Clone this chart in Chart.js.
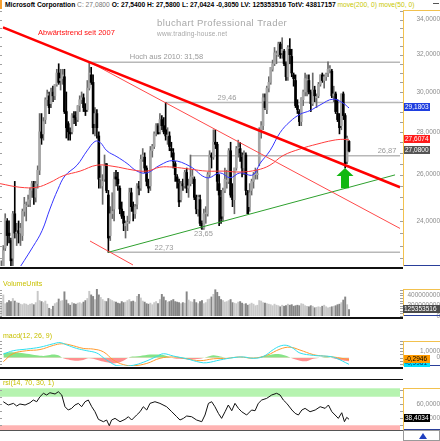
<!DOCTYPE html>
<html>
<head>
<meta charset="utf-8">
<title>Microsoft Corporation</title>
<script src="https://cdn.jsdelivr.net/npm/chart.js@4.4.1/dist/chart.umd.min.js"></script>
<style>
  body { margin: 0; width: 440px; height: 441px; overflow: hidden; background: #fff; position: relative; font-family: "Liberation Sans", Arial, sans-serif; }
  canvas { position: absolute; left: 0; }
  #mark { position: absolute; left: 0; top: 0; width: 2px; height: 9px; background: #f7a030; }
  #head { position: absolute; left: 5px; top: 0; height: 9px; line-height: 9px; font-size: 6.7px; font-weight: bold; white-space: nowrap; color: #000; }
  #head .c { color: #777; font-weight: normal; }
  #head .m { color: #c8c800; font-weight: normal; }
  #min { position: absolute; left: 433px; top: 3px; width: 6px; height: 1px; background: #555; }
</style>
</head>
<body>
<div id="mark"></div>
<div id="head">Microsoft Corporation <span class="c">C: 27,0800</span> O: 27,5400 H: 27,5800 L: 27,0424 -0,3050 LV: 125353516 TotV: 43817157 <span class="m">move(200, 0) move(50, 0)</span></div>
<div id="min"></div>
<canvas id="cPrice" width="440" height="271" style="top:9px"></canvas>
<canvas id="cVol" width="440" height="51" style="top:280px"></canvas>
<canvas id="cMacd" width="440" height="48" style="top:331px"></canvas>
<canvas id="cRsi" width="440" height="62" style="top:379px"></canvas>
<script>
// weekly bars, week 0 = 1 Jun 2009
const opens = [
  21.0, 22.2, 22.9, 24.0, 23.5, 23.2, 22.5, 24.3, 23.5, 23.6,
  23.5, 23.4, 24.4, 24.6, 24.7, 24.9, 25.3, 25.6, 25.0, 25.6,
  26.2, 28.0, 27.9, 28.6, 29.6, 29.8, 29.4, 30.0, 29.8, 30.4,
  31.0, 30.6, 30.7, 30.8, 29.0, 28.4, 28.0, 28.0, 28.8, 28.7,
  28.6, 29.3, 29.6, 29.7, 29.2, 29.1, 30.2, 30.9, 30.5, 28.4,
  28.9, 27.8, 25.8, 25.5, 25.8, 26.5, 25.1, 23.4, 24.3, 24.5,
  25.9, 25.8, 25.4, 24.5, 24.2, 23.8, 23.9, 24.0, 25.2, 24.6,
  24.3, 24.7, 25.5, 25.4, 26.7, 26.8, 26.3, 25.7, 25.5, 27.1,
  27.3, 27.9, 28.3, 28.0, 28.6, 28.3, 28.1, 27.8, 27.8, 27.2,
  27.0, 26.5, 25.9, 25.6, 24.9, 25.6, 25.5, 26.1, 25.4, 25.6,
  25.9, 25.8, 25.0, 24.5, 24.9, 23.9, 23.7, 24.3, 24.3, 26.0,
  26.9, 26.8, 27.5, 27.4, 25.6, 25.0, 24.2, 25.3, 25.7, 25.7,
  27.1, 25.1, 24.9, 26.3, 27.2, 27.2, 26.8, 26.3, 26.9, 25.2,
  24.6, 25.3, 25.7, 26.0, 26.0, 26.5, 28.1, 28.3, 29.5, 29.1,
  30.2, 30.5, 31.2, 31.5, 32.0, 32.0, 32.6, 32.1, 32.2, 31.5,
  30.8, 32.3, 31.9, 30.9, 30.6, 29.3, 29.0, 28.5, 29.6, 30.0,
  30.6, 30.6, 30.0, 29.4, 30.1, 29.7, 29.8, 30.4, 30.9, 30.6,
  30.8, 31.0, 31.2, 31.1, 29.8, 29.9, 28.9, 28.6, 28.3, 29.9,
  28.8, 26.6, 27.54
];
const highs = [
  22.4, 23.0, 24.3, 24.1, 24.0, 23.3, 24.4, 25.7, 23.9, 24.0,
  23.9, 24.5, 25.0, 24.8, 25.1, 25.4, 25.7, 25.7, 25.7, 26.4,
  28.9, 28.9, 28.7, 29.7, 30.1, 30.0, 30.2, 30.3, 30.4, 31.2,
  31.5, 31.2, 31.2, 31.2, 30.0, 28.5, 28.2, 28.9, 29.0, 29.0,
  29.3, 29.8, 30.0, 29.9, 29.4, 30.6, 31.58, 31.3, 30.9, 29.2,
  29.1, 28.0, 26.4, 26.0, 26.9, 26.5, 25.3, 24.6, 25.2, 26.1,
  26.2, 26.1, 25.5, 24.8, 24.4, 24.0, 24.2, 25.4, 25.4, 24.8,
  24.7, 25.6, 25.7, 26.9, 27.2, 27.0, 26.4, 25.8, 27.3, 27.4,
  28.0, 28.4, 28.4, 28.9, 28.8, 28.7, 29.46, 28.2, 28.0, 27.5,
  27.2, 26.6, 26.0, 25.8, 25.7, 25.8, 26.2, 26.3, 25.8, 26.9,
  26.2, 25.9, 25.1, 25.1, 25.1, 24.0, 24.5, 24.6, 26.1, 27.1,
  27.0, 28.1, 28.1, 27.5, 26.0, 25.3, 25.4, 26.3, 26.2, 27.2,
  27.5, 25.6, 26.3, 27.3, 27.6, 27.5, 27.0, 27.1, 27.0, 25.3,
  25.6, 25.8, 26.1, 26.3, 26.2, 28.2, 28.5, 29.9, 29.9, 30.3,
  30.8, 31.3, 31.7, 32.4, 32.2, 32.7, 32.7, 32.95, 32.3, 31.6,
  32.5, 32.9, 32.3, 31.0, 30.9, 29.6, 29.1, 29.7, 30.1, 31.0,
  30.9, 30.9, 30.1, 31.0, 30.3, 29.9, 30.5, 30.9, 31.0, 30.9,
  31.0, 31.6, 31.4, 31.2, 30.3, 30.0, 29.6, 28.9, 29.9, 30.0,
  28.9, 27.8, 27.58
];
const lows = [
  20.9, 21.8, 22.8, 23.0, 23.1, 22.0, 22.2, 23.3, 23.0, 23.1,
  23.0, 23.2, 24.2, 24.0, 24.6, 24.6, 25.0, 24.7, 24.8, 25.4,
  26.0, 27.4, 27.6, 28.4, 29.3, 28.9, 29.2, 29.5, 29.6, 30.3,
  30.4, 30.1, 30.4, 28.9, 27.7, 27.6, 27.6, 27.9, 28.4, 28.3,
  28.5, 29.0, 29.4, 29.0, 28.8, 29.0, 30.1, 30.4, 27.9, 27.8,
  27.7, 25.4, 25.4, 24.7, 25.7, 25.2, 22.73, 23.2, 24.1, 24.0,
  25.5, 25.3, 24.3, 24.1, 23.6, 23.3, 23.6, 23.9, 24.4, 24.0,
  24.1, 24.5, 25.1, 25.3, 26.6, 26.1, 25.5, 25.2, 25.3, 26.8,
  27.2, 27.8, 27.9, 27.9, 28.1, 27.9, 27.6, 27.4, 27.1, 26.8,
  26.3, 25.7, 25.4, 24.6, 24.8, 25.3, 25.4, 25.2, 25.0, 25.5,
  25.6, 24.9, 24.3, 24.2, 23.8, 23.65, 23.65, 23.9, 24.2, 25.9,
  26.3, 26.7, 27.2, 25.3, 23.8, 23.9, 24.0, 25.2, 25.4, 25.6,
  25.0, 24.6, 24.3, 26.2, 26.8, 26.6, 25.9, 26.0, 25.1, 24.3,
  24.4, 25.1, 25.4, 25.8, 25.8, 26.4, 27.7, 28.1, 29.1, 28.9,
  30.0, 30.4, 31.1, 31.4, 31.5, 31.9, 31.8, 31.8, 31.4, 30.6,
  30.6, 31.5, 30.8, 30.3, 29.2, 28.9, 28.3, 28.3, 29.3, 29.8,
  29.8, 29.9, 29.0, 29.3, 29.5, 29.2, 29.7, 30.3, 30.5, 30.2,
  30.6, 30.8, 31.0, 29.7, 29.5, 28.9, 28.5, 27.9, 28.1, 28.6,
  26.3, 26.5, 27.04
];
const closes = [
  22.1, 22.8, 24.1, 23.4, 23.4, 22.4, 24.3, 23.5, 23.5, 23.5,
  23.7, 24.4, 24.7, 24.6, 24.9, 25.3, 25.6, 25.0, 25.6, 26.2,
  28.0, 27.7, 28.5, 29.6, 29.9, 29.2, 30.0, 29.8, 30.4, 31.0,
  30.5, 30.7, 30.9, 29.0, 28.2, 28.0, 27.9, 28.8, 28.7, 28.6,
  29.3, 29.6, 29.7, 29.2, 29.0, 30.2, 31.0, 30.5, 28.2, 28.9,
  28.2, 25.8, 25.8, 25.7, 26.4, 25.3, 23.3, 24.3, 24.4, 25.8,
  25.8, 25.6, 24.5, 24.2, 23.9, 23.9, 23.9, 25.2, 24.6, 24.4,
  24.6, 25.5, 25.4, 26.7, 26.9, 26.3, 25.7, 25.4, 27.1, 27.3,
  27.9, 28.3, 27.9, 28.6, 28.3, 28.0, 27.8, 27.8, 27.3, 27.1,
  26.6, 26.0, 25.7, 24.8, 25.6, 25.5, 26.1, 25.4, 25.5, 25.9,
  25.9, 25.0, 24.5, 25.0, 23.9, 23.7, 24.3, 24.3, 26.0, 26.9,
  26.8, 27.5, 27.4, 25.7, 25.1, 24.1, 25.3, 25.8, 25.7, 27.1,
  25.1, 24.9, 26.3, 27.2, 27.2, 27.0, 26.3, 26.9, 25.3, 24.3,
  25.2, 25.7, 26.0, 26.0, 26.0, 28.1, 28.3, 29.7, 29.2, 30.2,
  30.5, 31.3, 31.5, 32.1, 32.0, 32.6, 32.0, 32.3, 31.5, 30.8,
  32.4, 32.0, 31.0, 30.7, 29.3, 29.1, 28.5, 29.7, 30.0, 30.7,
  30.6, 30.0, 29.4, 30.1, 29.8, 29.75, 30.4, 30.9, 30.6, 30.8,
  30.95, 31.2, 31.2, 29.8, 29.9, 29.0, 28.6, 28.2, 29.9, 28.8,
  26.5, 27.7, 27.08
];
// weekly volume in millions
const volumes = [
  280, 410, 240, 260, 300, 280, 340, 290, 260, 250,
  230, 220, 240, 230, 210, 230, 240, 220, 260, 480,
  300, 280, 260, 290, 230, 150, 130, 190, 240, 260,
  330, 290, 300, 470, 310, 240, 210, 260, 240, 230,
  250, 260, 240, 270, 300, 340, 480, 410, 380, 320,
  520, 410, 360, 320, 290, 280, 340, 320, 300, 280,
  270, 250, 240, 280, 260, 270, 300, 320, 280, 290,
  270, 380, 420, 350, 290, 270, 240, 230, 250, 220,
  260, 280, 240, 320, 420, 370, 300, 270, 280, 300,
  320, 280, 270, 260, 240, 260, 250, 470, 310, 280,
  270, 320, 260, 240, 280, 300, 240, 260, 320, 330,
  370, 420, 510, 460, 380, 320, 300, 270, 280, 300,
  320, 260, 250, 240, 270, 280, 250, 230, 240, 210,
  230, 250, 230, 200, 210, 300, 290, 260, 250, 240,
  230, 220, 200, 230, 210, 200, 180, 210, 190, 200,
  230, 210, 220, 190, 200, 210, 200, 240, 230, 200,
  190, 180, 200, 190, 160, 170, 180, 170, 190, 210,
  180, 160, 170, 180, 190, 200, 220, 230, 260, 310,
  370, 220, 125
];

// moving averages (week, price)
const ma50Weeks = [7.5, 16.5, 21.3, 25.4, 29.6, 33.3, 39.6, 44.8, 49.0, 51.6, 55.3, 60.5, 65.8, 71.0, 76.2, 83.0, 89.8, 98.7, 107.6, 114.5, 119.7, 124.9, 131.7, 135.4, 140.6, 145.9, 151.1, 156.3, 161.6, 166.8, 173.6, 178.8, 182.0];
const ma50Values = [21.9, 22.95, 23.6, 24.5, 25.35, 25.95, 26.43, 27.09, 27.54, 27.5, 27.09, 26.82, 26.51, 26.16, 26.08, 26.43, 26.64, 26.38, 25.86, 26.08, 25.86, 26.08, 25.99, 26.51, 27.1, 27.96, 28.5, 28.86, 29.05, 29.33, 29.63, 29.43, 29.18];
const ma200Weeks = [-0.7, 9.7, 18.6, 25.4, 32.3, 41.2, 50.0, 58.4, 68.9, 76.2, 83.0, 89.8, 98.7, 107.6, 116.0, 124.9, 133.8, 140.6, 147.4, 156.3, 165.2, 173.6, 178.8, 182.0];
const ma200Values = [25.6, 25.44, 25.44, 25.65, 25.95, 26.16, 26.43, 26.38, 26.21, 26.16, 26.34, 26.34, 26.25, 26.16, 26.16, 26.12, 26.21, 26.43, 26.87, 27.18, 27.41, 27.59, 27.64, 27.61];

// drawn lines (week, price)
const trendMain = [[0.84, 33.55], [208.7, 25.44]];
const trendInner = [[46.4, 31.58], [208.7, 23.69]];
const trendLower = [[46.4, 23.18], [68.9, 22.24]];
const supportLine = [[55.8, 22.73], [206.1, 25.99]];
const levelValues = [31.58, 29.46, 26.87, 22.73];
const levelFrom = [46.4, 85.7, 98.7, 55.8];
const levelTo = 208.7;
const arrowAt = { w: 179.9, tip: 26.3, base: 25.4 };

// macd panel
const macdWeeks = [1.0, 6.2, 13.2, 20.2, 27.2, 30.7, 34.2, 39.4, 44.7, 49.9, 53.4, 56.9, 60.4, 64.0, 69.1, 74.3, 81.3, 84.8, 90.0, 97.0, 104.0, 107.5, 114.5, 121.4, 126.7, 131.9, 137.1, 142.4, 145.9, 149.4, 152.8, 156.3, 163.3, 168.5, 172.1, 175.5, 182.0];
const macdValues = [0.52, 1.03, 1.27, 1.55, 2.06, 2.23, 1.89, 1.37, 1.03, 0.69, 0.0, -0.69, -1.2, -1.3, -1.13, -0.69, 0.17, 0.58, 0.24, -0.17, -0.69, -0.76, -0.34, 0.0, 0.1, -0.1, 0.17, 1.2, 1.72, 1.82, 1.37, 0.69, 0.34, 0.24, 0.17, -0.1, -0.9961];
const signalWeeks = [1.0, 6.2, 13.2, 20.2, 27.2, 31.6, 35.9, 42.9, 48.1, 53.4, 58.6, 63.8, 69.1, 76.1, 83.0, 90.0, 97.0, 104.0, 111.0, 118.0, 124.9, 131.9, 138.9, 145.9, 151.1, 156.3, 163.3, 168.5, 173.8, 182.0];
const signalValues = [-0.6, 0.6, 1.03, 1.2, 1.82, 2.06, 1.89, 1.37, 1.27, 0.86, -0.34, -1.03, -1.2, -0.86, -0.1, 0.1, -0.17, -0.45, -0.17, -0.1, 0.1, -0.07, 0.34, 1.27, 1.55, 1.13, 0.45, 0.24, 0.1, -0.2946];
const histWeeks = [1.0, 6.2, 13.2, 18.5, 21.9, 23.7, 27.2, 29.8, 32.4, 35.9, 39.4, 42.9, 45.5, 48.1, 51.6, 55.1, 58.6, 62.1, 65.6, 67.3, 72.6, 77.8, 83.0, 86.5, 90.0, 97.0, 104.0, 107.5, 111.0, 114.5, 118.0, 121.4, 128.4, 131.9, 135.4, 138.9, 142.4, 145.9, 149.4, 152.8, 156.3, 159.8, 163.3, 166.8, 170.3, 173.8, 177.3, 182.0];
const histValues = [0.69, 0.79, 0.58, 0.34, 0.24, 0.31, 0.45, 0.34, -0.1, -0.34, -0.45, -0.34, -0.1, -0.17, -0.45, -0.69, -0.86, -0.69, -0.17, 0.1, 0.24, 0.45, 0.45, 0.24, -0.1, -0.24, -0.17, 0.1, 0.34, 0.17, -0.03, 0.03, -0.07, -0.1, 0.1, 0.31, 0.52, 0.52, 0.24, -0.17, -0.45, -0.52, -0.17, -0.03, 0.1, -0.1, -0.34, -0.52];

// rsi panel
const rsiWeeks = [1.0, 3.6, 6.3, 8.0, 9.7, 12.4, 15.0, 16.7, 18.5, 20.2, 22.0, 23.7, 25.4, 28.1, 29.8, 31.6, 33.3, 35.0, 36.8, 38.5, 40.3, 42.0, 43.8, 45.5, 47.3, 49.0, 50.8, 53.4, 55.1, 56.5, 57.7, 59.5, 62.1, 64.7, 66.5, 68.2, 70.8, 72.6, 74.3, 76.1, 77.8, 80.4, 83.0, 86.5, 89.2, 91.8, 93.5, 95.3, 97.0, 99.6, 102.2, 104.9, 106.6, 108.4, 110.1, 111.8, 113.6, 115.3, 117.1, 118.8, 120.6, 122.3, 124.1, 125.8, 128.4, 131.0, 132.8, 134.5, 136.3, 138.9, 141.5, 144.1, 145.9, 147.6, 149.4, 152.1, 153.8, 155.5, 157.3, 159.0, 161.6, 164.3, 166.9, 169.5, 171.2, 173.0, 174.7, 176.4, 178.2, 179.6, 180.8, 182.0];
const rsiValues = [63.0, 58.4, 60.7, 57.0, 59.8, 58.4, 61.6, 65.4, 63.0, 70.0, 74.8, 72.4, 75.6, 73.8, 77.0, 72.4, 56.0, 51.4, 53.7, 58.4, 60.7, 56.0, 63.0, 65.4, 56.0, 49.0, 38.3, 35.0, 37.4, 29.4, 37.4, 39.7, 35.0, 38.3, 42.0, 37.4, 44.4, 49.0, 56.0, 51.4, 60.7, 63.0, 60.7, 56.0, 49.0, 42.0, 37.4, 39.7, 43.0, 42.0, 37.4, 35.0, 44.4, 60.7, 63.0, 56.0, 46.7, 39.7, 49.0, 58.4, 50.4, 60.7, 53.7, 49.0, 44.4, 51.4, 50.4, 60.7, 65.4, 67.7, 72.4, 74.8, 72.4, 65.4, 60.7, 51.4, 46.7, 44.4, 51.4, 53.7, 49.0, 51.4, 56.0, 53.7, 58.4, 49.0, 44.4, 39.7, 47.6, 35.0, 41.1, 38.4];
const rsiUpper = 70;
const rsiLower = 30;

// axis ticks
const monthTicks = [0, 8.7, 17.4, 30.4, 38.9, 47.6, 56.3, 65.1, 73.9, 82.6, 91.0, 99.6, 108.3, 117.1, 125.9, 134.7, 143.1, 151.9, 160.6, 169.4, 178.1, 186.9, 195.3, 203.9];
const monthLabels = ["'09", 'Aug', 'Okt', "'10", 'Mrz', 'Mai', 'Jul', 'Sep', 'Nov', "'11", 'Mrz', 'Mai', 'Jul', 'Sep', 'Nov', "'12", 'Mrz', 'Mai', 'Jul', 'Sep', 'Nov', "'13", 'Mrz', 'Mai'];
const priceTicks = [24, 26, 28, 30, 32, 34];
const volTicks = [0, 200, 400];
const macdTicks = [0, 1];
const rsiTicks = [40, 60];

// last values shown in the axis boxes
const lastMa50 = 29.1803;
const lastMa200 = 27.6074;
const lastClose = 27.08;
const lastVolume = 125353516;
const lastMacd = -0.9961;
const lastSignal = -0.2946;
const lastRsi = 38.4034;

const FONT = '"Liberation Sans", Arial, sans-serif';
Chart.defaults.font.family = FONT;
const X_MIN = -0.73;
const X_MAX = 210.26;
const AXIS_W = 37;

const fmt4 = v => v === 0 ? '0' : v.toFixed(4).replace('.', ',');
const pairs = (xs, ys) => xs.map((x, i) => ({ x: x, y: ys[i] }));
const seg = pts => pts.map(p => ({ x: p[0], y: p[1] }));
const isUp = i => closes[i] >= opens[i];
const weekIdx = closes.map((_, i) => i);

function xAxis(show) {
  return {
    type: 'linear', min: X_MIN, max: X_MAX, offset: false, display: show,
    grid: { display: false },
    border: { display: show, color: '#555' },
    afterBuildTicks: s => { s.ticks = monthTicks.map(v => ({ value: v })); },
    afterFit: s => { s.height = 11; s.paddingLeft = 0; s.paddingRight = 0; },
    ticks: { autoSkip: false, maxRotation: 0, padding: 2, color: '#333', font: { size: 7 },
      callback: (v, i) => monthLabels[i] }
  };
}

function rightAxis(extra, tickValues, fmt, pad) {
  return Object.assign({
    position: 'right',
    grid: { display: false },
    border: { display: false },
    afterBuildTicks: s => { s.ticks = tickValues.map(v => ({ value: v })); },
    afterFit: s => { s.width = AXIS_W; s.paddingTop = 0; s.paddingBottom = 0; },
    ticks: { autoSkip: false, crossAlign: 'far', padding: pad, color: '#8c8c8c', font: { size: 6.5 }, callback: fmt }
  }, extra);
}

function baseOptions(padTop, padBottom, yOpts, showX) {
  return {
    responsive: false, animation: false, events: [],
    layout: { padding: { left: 0, right: 0, top: padTop, bottom: padBottom } },
    plugins: { legend: { display: false }, tooltip: { enabled: false } },
    scales: { x: xAxis(showX), y: yOpts }
  };
}

function minorTicks(chart, from, to, step) {
  const { ctx, chartArea: a, scales: { y } } = chart;
  ctx.fillStyle = '#a0a0a0';
  for (let v = from; v <= to + 1e-9; v += step) {
    const py = Math.round(y.getPixelForValue(v));
    if (py < a.top || py > a.bottom) continue;
    ctx.fillRect(0, py, 2, 1);
    ctx.fillRect(a.right - 3, py, 3, 1);
  }
}

function valueBox(chart, value, label, bg, fg, left, right) {
  const { ctx, scales: { y } } = chart;
  const py = Math.round(y.getPixelForValue(value)) - 1;
  ctx.fillStyle = bg;
  ctx.fillRect(left, py - 4, right - left, 8);
  ctx.fillStyle = fg;
  ctx.font = '6.5px ' + FONT;
  ctx.textAlign = 'left';
  ctx.textBaseline = 'middle';
  ctx.fillText(label, left + 1, py + 0.5);
}

function frame(chart, title, separator) {
  const { ctx, chartArea: a, width } = chart;
  const r = Math.round(a.right);
  ctx.fillStyle = '#f2c14e';
  ctx.fillRect(r, Math.round(a.top), 1, Math.round(a.bottom - a.top));
  ctx.fillRect(r, Math.round(a.top), width - r, 1);
  ctx.fillStyle = '#2a3f9a';
  ctx.fillRect(r + 1, Math.round(a.bottom) - 1, width - r, 1);
  if (separator) {
    ctx.fillStyle = '#111';
    ctx.fillRect(0, Math.round(a.bottom) + 1, r, 2);
  }
  if (title) {
    ctx.fillStyle = '#c8c000';
    ctx.font = '7px ' + FONT;
    ctx.textAlign = 'left';
    ctx.textBaseline = 'middle';
    ctx.fillText(title, 3, a.top - 5);
  }
}

// ---------- price panel ----------
const notes = [
  { text: 'Abwärtstrend seit 2007', w: 39.3, p: 33.22, dy: 0, color: '#ff1010' },
  { text: 'Hoch aus 2010: 31,58', w: 86.4, p: 31.58, dy: -5, color: '#9a9a9a' },
  { text: '29,46', w: 118.1, p: 29.46, dy: -4.5, color: '#9a9a9a' },
  { text: '26,87', w: 201.9, p: 26.87, dy: -5, color: '#9a9a9a' },
  { text: '23,65', w: 105.8, p: 23.65, dy: 4.5, color: '#9a9a9a' },
  { text: '22,73', w: 85.1, p: 22.73, dy: -4.5, color: '#9a9a9a' }
];

const priceDeco = {
  id: 'priceDeco',
  beforeDatasetsDraw(chart) {
    const { ctx } = chart;
    ctx.save();
    ctx.fillStyle = '#a8a8a8';
    ctx.textAlign = 'left';
    ctx.textBaseline = 'middle';
    ctx.font = '9.5px ' + FONT;
    ctx.letterSpacing = '0.4px';
    ctx.fillText('bluchart Professional Trader', 157, 14);
    ctx.font = '6.5px ' + FONT;
    ctx.letterSpacing = '0.2px';
    ctx.fillText('www.trading-house.net', 157, 25);
    ctx.restore();
  },
  afterDatasetsDraw(chart) {
    const { ctx, scales: { x, y } } = chart;
    ctx.save();
    ctx.font = '7.5px ' + FONT;
    ctx.textAlign = 'center';
    ctx.textBaseline = 'middle';
    notes.forEach(n => {
      ctx.fillStyle = n.color;
      ctx.fillText(n.text, x.getPixelForValue(n.w), y.getPixelForValue(n.p) + n.dy);
    });
    const ax = x.getPixelForValue(arrowAt.w);
    const yt = y.getPixelForValue(arrowAt.tip);
    const yb = y.getPixelForValue(arrowAt.base);
    ctx.fillStyle = '#12b812';
    ctx.beginPath();
    ctx.moveTo(ax, yt);
    ctx.lineTo(ax + 8.5, yt + 8);
    ctx.lineTo(ax + 4, yt + 8);
    ctx.lineTo(ax + 4, yb);
    ctx.lineTo(ax - 4, yb);
    ctx.lineTo(ax - 4, yt + 8);
    ctx.lineTo(ax - 8.5, yt + 8);
    ctx.closePath();
    ctx.fill();
    ctx.restore();
  },
  afterDraw(chart) {
    const { ctx } = chart;
    ctx.save();
    minorTicks(chart, 22.5, 34.5, 0.5);
    frame(chart, null, true);
    valueBox(chart, lastMa50, fmt4(lastMa50), '#1f3fe0', '#fff', 404, 430);
    valueBox(chart, lastMa200, fmt4(lastMa200), '#ff1a1a', '#fff', 404, 430);
    valueBox(chart, lastClose, fmt4(lastClose), '#555', '#fff', 404, 430);
    ctx.restore();
  }
};

const lineStyle = (color, width, order) => ({
  type: 'line', borderColor: color, borderWidth: width, pointRadius: 0, fill: false, order: order
});

new Chart(document.getElementById('cPrice'), {
  type: 'bar',
  data: {
    datasets: [
      ...levelValues.map((v, k) => Object.assign(lineStyle('#b8b8b8', 1.5, 9),
        { data: [{ x: levelFrom[k], y: v }, { x: levelTo, y: v }] })),
      { data: weekIdx.map(i => ({ x: i, y: [lows[i], highs[i]] })), grouped: false, barThickness: 1,
        backgroundColor: c => isUp(c.dataIndex) ? '#6a6a6a' : '#000', order: 6 },
      { data: weekIdx.map(i => ({ x: i, y: [opens[i], closes[i]] })), grouped: false, barThickness: 2, minBarLength: 1,
        backgroundColor: c => isUp(c.dataIndex) ? '#a6a6a6' : '#000', order: 5 },
      Object.assign(lineStyle('#ff3c3c', 1, 3), { data: pairs(ma200Weeks, ma200Values), tension: 0.4 }),
      Object.assign(lineStyle('#3535ff', 1, 3), { data: pairs(ma50Weeks, ma50Values), tension: 0.4 }),
      Object.assign(lineStyle('#ff4a4a', 1, 2), { data: seg(trendInner) }),
      Object.assign(lineStyle('#ff4a4a', 1, 2), { data: seg(trendLower) }),
      Object.assign(lineStyle('#2ea02e', 1, 2), { data: seg(supportLine) }),
      Object.assign(lineStyle('#ff0000', 2.5, 1), { data: seg(trendMain) })
    ]
  },
  options: baseOptions(1, 3, rightAxis({ type: 'logarithmic', min: 22.2, max: 34.57 }, priceTicks, fmt4, 13), false),
  plugins: [priceDeco]
});

// ---------- volume panel ----------
new Chart(document.getElementById('cVol'), {
  type: 'bar',
  data: {
    datasets: [{
      data: weekIdx.map(i => ({ x: i, y: volumes[i] })), barThickness: 1.3,
      backgroundColor: c => isUp(c.dataIndex) ? '#c8c8c8' : '#868686'
    }]
  },
  options: baseOptions(9, 4, rightAxis({ min: 0, max: 524 }, volTicks,
    v => v === 0 ? '0' : String(v * 1000000), 4), false),
  plugins: [{
    id: 'volDeco',
    afterDraw(chart) {
      chart.ctx.save();
      minorTicks(chart, 0, 500, 50);
      frame(chart, 'VolumeUnits', true);
      valueBox(chart, lastVolume / 1000000, String(lastVolume), '#4a4a4a', '#fff', 403, 440);
      chart.ctx.restore();
    }
  }]
});

// ---------- macd panel ----------
new Chart(document.getElementById('cMacd'), {
  type: 'line',
  data: {
    datasets: [
      { data: pairs(macdWeeks, macdValues), borderColor: '#2fe0f0', borderWidth: 1, pointRadius: 0, tension: 0.4, order: 1 },
      { data: pairs(signalWeeks, signalValues), borderColor: '#ff9a2e', borderWidth: 1, pointRadius: 0, tension: 0.4, order: 2 },
      { data: pairs(histWeeks, histValues), borderWidth: 0, pointRadius: 0, tension: 0.3, order: 5,
        fill: { target: 'origin', above: '#86e486', below: '#ff8f8f' } }
    ]
  },
  options: baseOptions(10, 2, rightAxis({ min: -1.24, max: 2.47 }, macdTicks, fmt4, 16.6), false),
  plugins: [{
    id: 'macdDeco',
    afterDraw(chart) {
      chart.ctx.save();
      minorTicks(chart, -1, 2.5, 0.5);
      frame(chart, 'macd(12, 26, 9)', true);
      valueBox(chart, lastMacd, fmt4(lastMacd), '#00e0ff', '#0a2a6a', 404, 430);
      valueBox(chart, lastSignal, fmt4(lastSignal), '#ff9a00', '#000', 404, 430);
      chart.ctx.restore();
    }
  }]
});

// ---------- rsi panel ----------
new Chart(document.getElementById('cRsi'), {
  type: 'line',
  data: {
    datasets: [
      { data: pairs(rsiWeeks, rsiValues), borderColor: '#111', borderWidth: 1, pointRadius: 0, tension: 0 }
    ]
  },
  options: baseOptions(9.3, 0, rightAxis({ min: 23.4, max: 81.8 }, rsiTicks, fmt4, 13), true),
  plugins: [{
    id: 'rsiDeco',
    beforeDatasetsDraw(chart) {
      const { ctx, chartArea: a, scales: { y } } = chart;
      ctx.save();
      const y70 = y.getPixelForValue(rsiUpper);
      const y30 = y.getPixelForValue(rsiLower);
      ctx.fillStyle = '#b6f3b0';
      ctx.fillRect(0, a.top, a.right - 3, y70 - a.top);
      ctx.fillStyle = '#ffb3b3';
      ctx.fillRect(0, y30, a.right - 3, a.bottom - y30);
      ctx.restore();
    },
    afterDraw(chart) {
      const { ctx, chartArea: a, width, height } = chart;
      ctx.save();
      ctx.fillStyle = '#111';
      ctx.fillRect(0, 0, Math.round(a.right), 1);
      minorTicks(chart, 30, 80, 10);
      frame(chart, 'rsi(14, 70, 30, 1)', false);
      valueBox(chart, lastRsi, fmt4(lastRsi), '#000', '#fff', 404, 430);
      // corner box below the axis
      const r = Math.round(a.right);
      ctx.strokeStyle = '#9a9a9a';
      ctx.strokeRect(r + 0.5, Math.round(a.bottom) + 0.5, width - r - 1, height - Math.round(a.bottom) - 1);
      ctx.fillStyle = '#2040c0';
      ctx.beginPath();
      ctx.moveTo(r + 20, a.bottom + 3);
      ctx.lineTo(r + 24, a.bottom + 9);
      ctx.lineTo(r + 16, a.bottom + 9);
      ctx.closePath();
      ctx.fill();
      ctx.restore();
    }
  }]
});
</script>
</body>
</html>
